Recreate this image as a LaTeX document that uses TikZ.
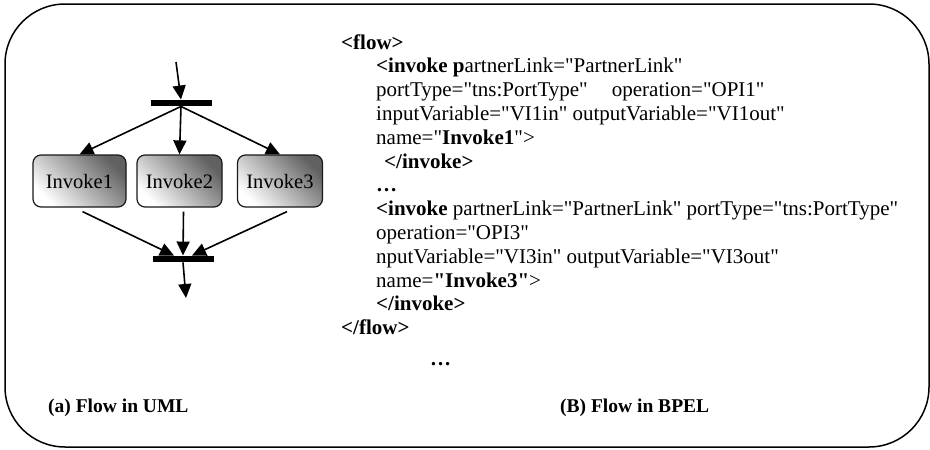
\documentclass[tikz,border=0pt]{standalone}
\usepackage{fontspec}
\setmainfont{Liberation Serif}
\newfontfamily\codefont{Liberation Serif}
\usetikzlibrary{positioning,arrows.meta}

\begin{document}
\begin{tikzpicture}[x=1pt,y=-1pt,
bar/.style={rectangle,fill=black,inner sep=0pt,minimum width=61pt,minimum height=6.5pt},
activity/.style={rectangle,draw=black!90,line width=1.2pt,rounded corners=8pt,
top color=black!62,bottom color=white,shading angle=-45,
inner sep=0pt,minimum width=85pt,minimum height=52pt,font=\fontsize{20.5}{24}\selectfont},
flowarrow/.style={-{Triangle[length=14pt,width=13pt]},line width=1.6pt},
code/.style={anchor=base west,inner sep=0pt,font=\codefont\fontsize{21}{24}\selectfont},
caption/.style={anchor=base west,inner sep=0pt,font=\fontsize{19.5}{24}\selectfont\bfseries}]
\useasboundingbox (0,0) rectangle (930,450);
\draw[line width=1.5pt,rounded corners=60pt] (5,4) rectangle (929,447);
% UML side
\coordinate (in) at (176,62);
\node[bar] (fork) at (181,103) {};
\node[activity,minimum width=93pt] (inv1) at (79.5,181) {Invoke1};
\node[activity] (inv2) at (179.5,181) {Invoke2};
\node[activity] (inv3) at (280,181) {Invoke3};
\node[bar] (join) at (183,259) {};
\coordinate (out) at (186,298);
\draw[flowarrow] (in) -- (fork.north);
\draw[flowarrow] (fork.south) -- (inv1.north);
\draw[flowarrow] (fork.south) -- (inv2.north);
\draw[flowarrow] (fork.south) -- (inv3.north);
\draw[flowarrow] ([xshift=3pt,yshift=-4pt]inv1.south) -- ([xshift=-9pt]join.north);
\draw[flowarrow] ([xshift=4pt,yshift=-4pt]inv2.south) -- (join.north);
\draw[flowarrow] ([xshift=7pt,yshift=-4pt]inv3.south) -- ([xshift=9pt]join.north);
\draw[flowarrow] (join.south) -- (out);
% BPEL side
\node[code] (flowopen) at (341,49) {\textbf{<flow>}};
\node[code] (invA1) at (376,72.8) {\textbf{<invoke p}artnerLink="PartnerLink"};
\node[code] (invA2) at (376,96.6) {portType="tns:PortType"\hspace{1.15em}operation="OPI1"};
\node[code] (invA3) at (376,120.4) {inputVariable="VI1in" outputVariable="VI1out"};
\node[code] (invA4) at (376,144.2) {name="\textbf{Invoke1}">};
\node[code] (invA5) at (384,168) {\textbf{</invoke>}};
\node[code] (dotsA) at (376,191.8) {\textbf{…}};
\node[code] (invB1) at (376,215.6) {\textbf{<invoke} partnerLink="PartnerLink" portType="tns:PortType"};
\node[code] (invB2) at (376,239.4) {operation="OPI3"};
\node[code] (invB3) at (376,263.2) {nputVariable="VI3in" outputVariable="VI3out"};
\node[code] (invB4) at (376,287) {name=\textbf{"Invoke3"}>};
\node[code] (invB5) at (376,310.8) {\textbf{</invoke>}};
\node[code] (flowclose) at (341,334.6) {\textbf{</flow>}};
\node[code] (dotsB) at (430,365) {\textbf{…}};
\node[caption] (capuml) at (48,412) {(a) Flow in UML};
\node[caption] (capbpel) at (560,412) {(B) Flow in BPEL};
\end{tikzpicture}
\end{document}
